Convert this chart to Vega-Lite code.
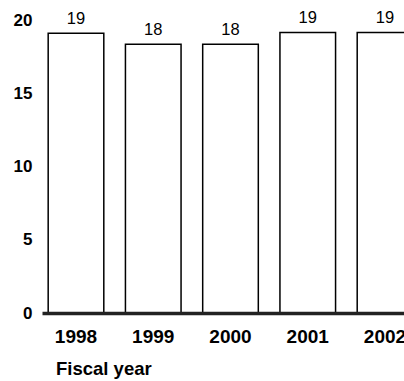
{
  "$schema": "https://vega.github.io/schema/vega-lite/v6.json",
  "autosize": {"type": "none"},
  "padding": {"left": 42, "top": 20, "right": 0, "bottom": 68},
  "width": 377,
  "height": 293,
  "background": "white",
  "config": {
    "view": {"stroke": null},
    "font": "Liberation Sans",
    "axis": {"grid": false, "ticks": false, "tickSize": 0}
  },
  "data": {
    "values": [
      {"year": "1998", "value": 19.1},
      {"year": "1999", "value": 18.35},
      {"year": "2000", "value": 18.35},
      {"year": "2001", "value": 19.15},
      {"year": "2002", "value": 19.15}
    ]
  },
  "encoding": {
    "x": {
      "field": "year",
      "type": "nominal",
      "scale": {"paddingInner": 0.28, "paddingOuter": 0.08},
      "axis": {
        "title": "Fiscal year",
        "zindex": 1,
        "labelAngle": 0,
        "labelFont": "Liberation Sans",
        "labelFontSize": 19,
        "labelFontWeight": "bold",
        "labelColor": "black",
        "labelPadding": 14,
        "domainColor": "#222222",
        "domainWidth": 3.5,
        "titleFont": "Liberation Sans",
        "titleFontSize": 18.5,
        "titleFontWeight": "bold",
        "titleColor": "black",
        "titleAlign": "left",
        "titleAnchor": "start",
        "titleBaseline": "alphabetic",
        "titleX": 13.5,
        "titleY": 61.5
      }
    },
    "y": {
      "field": "value",
      "type": "quantitative",
      "scale": {"domain": [0, 20], "nice": false},
      "axis": {
        "title": null,
        "values": [0, 5, 10, 15, 20],
        "domain": false,
        "labelFont": "Liberation Sans",
        "labelFontSize": 17,
        "labelFontWeight": "bold",
        "labelColor": "black",
        "labelPadding": 10
      }
    }
  },
  "layer": [
    {
      "mark": {"type": "bar", "fill": "white", "stroke": "black", "strokeWidth": 1.5}
    },
    {
      "mark": {"type": "text", "baseline": "alphabetic", "dy": -9, "fontSize": 16.5, "font": "Liberation Sans", "color": "black"},
      "encoding": {"text": {"field": "value", "type": "quantitative", "format": ".0f"}}
    }
  ]
}
